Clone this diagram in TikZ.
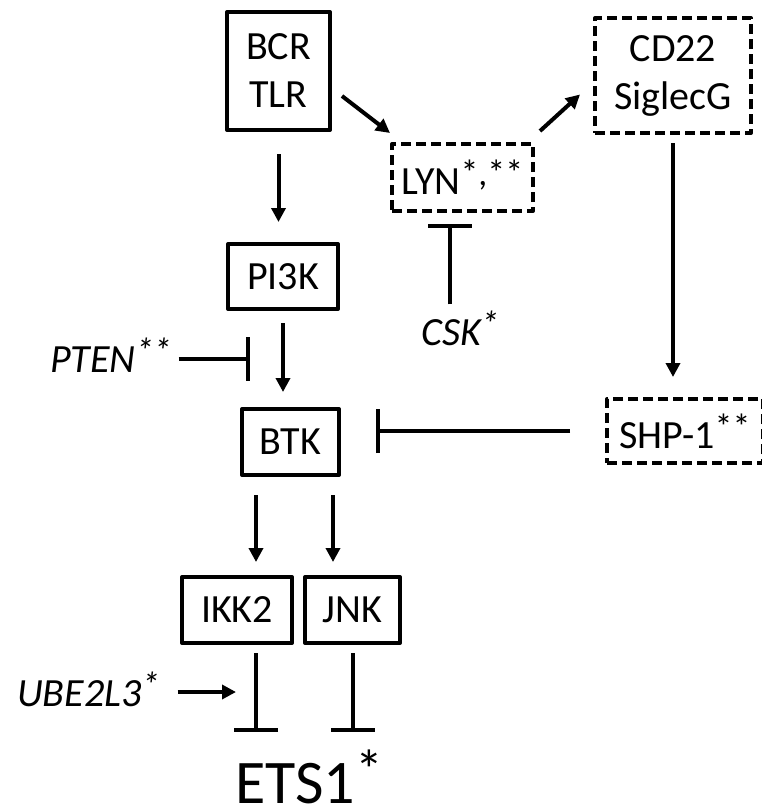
\documentclass[tikz,border=0pt]{standalone}
\usepackage{fontspec}
\setmainfont{Carlito}
\usetikzlibrary{arrows.meta, calc}

\newcommand{\boxfont}{\fontsize{40}{48}\selectfont}
\newcommand{\etsfont}{\fontsize{62}{70}\selectfont}
\newcommand{\gsup}[1]{\raisebox{0.22em}{\scalebox{0.9}{#1}}}

\begin{document}
\begin{tikzpicture}[x=1pt, y=1pt, line join=round,
  gene/.style={draw, line width=4pt, inner sep=0pt, align=center, font=\boxfont},
  dgene/.style={gene, dash pattern=on 10pt off 5pt},
  lbl/.style={inner sep=0pt, font=\boxfont\itshape},
  act/.style={line width=4pt, -{Triangle[length=14pt, width=14pt]}},
  inh/.style={line width=4pt, -{Bar[width=44pt]}}]

  \useasboundingbox (0,0) rectangle (761,-809);

  % Boxes
  \node[gene, minimum width=103pt, minimum height=118pt] (bcr) at (278.5,-71) {BCR\\TLR};
  \node[dgene, minimum width=141pt, minimum height=67pt] (lyn) at (462.5,-177.5) {LYN\gsup{*,**}};
  \node[dgene, minimum width=156pt, minimum height=115pt] (cd22) at (673,-75.5) {CD22\\SiglecG};
  \node[gene, minimum width=110pt, minimum height=65pt] (pi3k) at (283,-276.5) {PI3K};
  \node[gene, minimum width=97pt, minimum height=66pt] (btk) at (290.5,-442) {BTK};
  \node[dgene, minimum width=156pt, minimum height=64pt] (shp1) at (685,-431) {SHP-1\gsup{**}};
  \node[gene, minimum width=110pt, minimum height=66pt] (ikk2) at (237,-610) {IKK2};
  \node[gene, minimum width=95pt, minimum height=66pt] (jnk) at (352.5,-610) {JNK};

  % Free labels
  \node[lbl, anchor=base west] (pten) at (50,-372) {PTEN\gsup{**}};
  \node[lbl, anchor=base] (csk) at (460,-345) {CSK\gsup{*}};
  \node[lbl, anchor=base west] (ube) at (17,-706) {UBE2L3\gsup{*}};
  \node[inner sep=0pt, anchor=base west, font=\etsfont] (ets1) at (235,-803) {ETS1\gsup{*}};

  % Where the free ends stop
  \coordinate (ptenhit) at (250,-359);
  \coordinate (btkhit)  at (376,-431);
  \coordinate (lynhit)  at (450,-224);
  \coordinate (ubehit)  at (236,-692);
  \coordinate (ikkhit)  at (256,-732);
  \coordinate (jnkhit)  at (352.5,-732);

  % Activation
  \draw[act, shorten <=22pt, shorten >=20pt] (bcr.south) -- (bcr.south |- pi3k.north);
  \draw[act] ([shift={(10pt,-25pt)}]bcr.east) -- ([yshift=9pt]lyn.north west);
  \draw[act] ([shift={(5pt,11pt)}]lyn.north east) -- ([shift={(-13pt,-19pt)}]cd22.west);
  \draw[act, shorten <=8pt, shorten >=20pt] (cd22.south) -- (cd22.south |- shp1.north);
  \draw[act, shorten <=12pt, shorten >=15pt] (pi3k.south) -- (pi3k.south |- btk.north);
  \draw[act, shorten <=18pt, shorten >=13pt] ([xshift=-34.5pt]btk.south) -- ([xshift=19pt]ikk2.north);
  \draw[act, shorten <=18pt, shorten >=13pt] ([xshift=42.5pt]btk.south) -- ([xshift=-19.5pt]jnk.north);
  \draw[act, shorten <=18pt] (ube.east |- ubehit) -- (ubehit);

  % Inhibition
  \draw[inh, shorten <=7pt] (pten.east |- ptenhit) -- (ptenhit);
  \draw[inh, shorten <=35pt] (shp1.west) -- (btkhit);
  \draw[inh] ([yshift=6pt]csk.north -| lynhit) -- (lynhit);
  \draw[inh, shorten <=8pt] ([xshift=19pt]ikk2.south) -- (ikkhit);
  \draw[inh, shorten <=8pt] (jnk.south) -- (jnkhit);

\end{tikzpicture}
\end{document}
